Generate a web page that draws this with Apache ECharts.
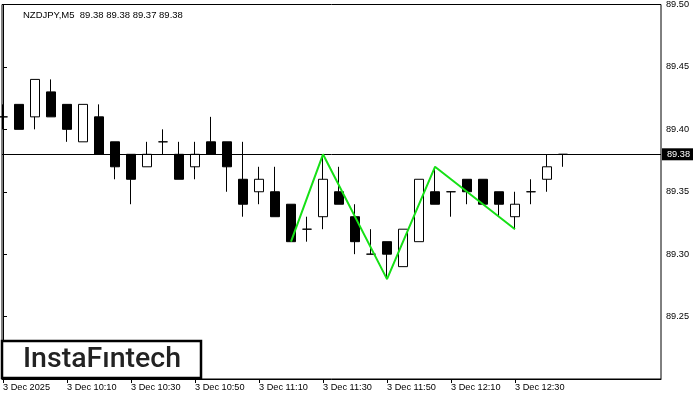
<!DOCTYPE html>
<html><head><meta charset="utf-8">
<script src="https://cdn.jsdelivr.net/npm/echarts@6/dist/echarts.min.js"></script>
<style>html,body{margin:0;padding:0;background:#fff}#c{width:700px;height:400px}</style>
</head><body><div id="c"></div>
<script>
var times = ["09:50","09:55","10:00","10:05","10:10","10:15","10:20","10:25","10:30","10:35","10:40","10:45",
 "10:50","10:55","11:00","11:05","11:10","11:15","11:20","11:25","11:30","11:35","11:40","11:45",
 "11:50","11:55","12:00","12:05","12:10","12:15","12:20","12:25","12:30","12:35","12:40","12:45"];
var openP  = [89.41,89.42,89.41,89.43,89.42,89.39,89.41,89.39,89.38,89.37,89.39,89.38,
 89.37,89.39,89.39,89.36,89.35,89.35,89.34,89.32,89.33,89.35,89.33,89.30,
 89.31,89.29,89.31,89.35,89.35,89.36,89.36,89.35,89.33,89.35,89.36,89.38];
var closeP = [89.41,89.40,89.44,89.41,89.40,89.42,89.38,89.37,89.36,89.38,89.39,89.36,
 89.38,89.38,89.37,89.34,89.36,89.33,89.31,89.32,89.36,89.34,89.31,89.30,
 89.30,89.32,89.36,89.34,89.35,89.35,89.34,89.34,89.34,89.35,89.37,89.38];
var lowP   = [89.40,89.40,89.40,89.41,89.39,89.39,89.38,89.36,89.34,89.37,89.38,89.36,
 89.36,89.38,89.35,89.33,89.34,89.33,89.31,89.31,89.32,89.34,89.30,89.30,
 89.28,89.29,89.31,89.34,89.33,89.34,89.34,89.33,89.32,89.34,89.35,89.37];
var highP  = [89.42,89.42,89.44,89.44,89.42,89.42,89.42,89.39,89.38,89.39,89.40,89.39,
 89.39,89.41,89.39,89.39,89.37,89.37,89.34,89.33,89.38,89.37,89.34,89.32,
 89.31,89.32,89.36,89.37,89.35,89.36,89.36,89.35,89.35,89.36,89.38,89.38];
var tickIndex = [0,4,8,12,16,20,24,28,32];
var tickLabels = ["3 Dec 2025","3 Dec 10:10","3 Dec 10:30","3 Dec 10:50","3 Dec 11:10",
 "3 Dec 11:30","3 Dec 11:50","3 Dec 12:10","3 Dec 12:30"];
var zigIndex = [18,20,24,27,32];
var zigPrice = [89.31,89.38,89.28,89.37,89.32];
var currentPrice = 89.38;
var titleText = "NZDJPY,M5  89.38 89.38 89.37 89.38";

var candleData = times.map(function(t,i){ return [i, openP[i], closeP[i], lowP[i], highP[i]]; });
var zigData = zigIndex.map(function(x,i){ return [x, zigPrice[i]]; });
var FONT = "Liberation Sans";

var chart = echarts.init(document.getElementById('c'), null, {renderer:'canvas'});
chart.setOption({
  animation:false,
  backgroundColor:'#fff',
  title:{text:titleText, left:18, top:5, textStyle:{fontFamily:FONT, fontSize:9.5, fontWeight:'normal', color:'#000'}},
  grid:{left:2, top:4, right:39, bottom:21, show:true, borderColor:'#000', borderWidth:1, backgroundColor:'#fff'},
  xAxis:{type:'value', min:-0.0625, max:41.125, splitLine:{show:false},
    axisLine:{show:true, lineStyle:{color:'#000', width:1}},
    axisTick:{show:true, length:4, lineStyle:{color:'#000'}, customValues:tickIndex},
    axisLabel:{show:true, customValues:tickIndex, align:'left', margin:4, fontFamily:FONT, fontSize:9.2, color:'#000',
      formatter:function(v){ var k=tickIndex.indexOf(Math.round(v)); return k>=0?tickLabels[k]:''; }}
  },
  yAxis:{type:'value', position:'right', min:89.2, max:89.5, interval:0.05, scale:true, splitLine:{show:false},
    axisLine:{show:true, lineStyle:{color:'#000', width:1}},
    axisTick:{show:true, length:4, lineStyle:{color:'#000'}},
    axisLabel:{showMinLabel:false, margin:5, fontFamily:FONT, fontSize:9.2, color:'#000',
      formatter:function(v){ return v.toFixed(2); }}
  },
  series:[
    {type:'candlestick', data:candleData, encode:{x:0, y:[1,2,3,4]}, barWidth:10,
     itemStyle:{color:'#fff', color0:'#000', borderColor:'#000', borderColor0:'#000', borderWidth:1},
     markLine:{symbol:'none', silent:true, lineStyle:{color:'#000', width:1, type:'solid'},
       label:{show:true, position:'end', distance:1, formatter:currentPrice.toFixed(2), color:'#fff', backgroundColor:'#000',
         padding:[2,3,1,5], fontFamily:FONT, fontSize:9.2},
       data:[{yAxis:currentPrice}]}
    },
    {type:'line', data:zigData, showSymbol:false, symbol:'none', lineStyle:{color:'#16e016', width:2}, z:5}
  ],
  graphic:[
    {type:'rect', shape:{x:2, y:341, width:199, height:37}, style:{fill:'#fff', stroke:'#000', lineWidth:2.5}, z:100},
    {type:'text', x:102, y:360, style:{text:'InstaF\u0131ntech', fontFamily:'Roboto', fontSize:28.5, fontWeight:500,
      fill:'#222', align:'center', verticalAlign:'middle'}, z:101}
  ]
});
</script></body></html>
